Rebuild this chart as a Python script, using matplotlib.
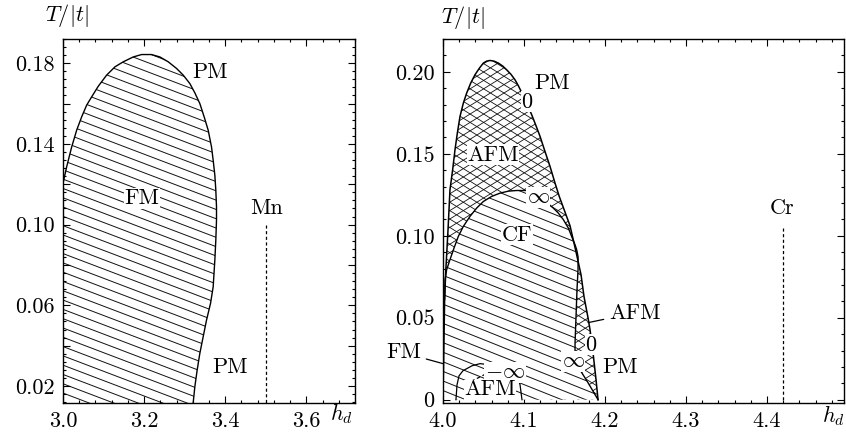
import numpy as np
import matplotlib.pyplot as plt
from matplotlib import ticker
from matplotlib.patches import Polygon
from matplotlib.collections import LineCollection

plt.rcParams['font.family'] = 'serif'
plt.rcParams['font.serif'] = ['cmr10']
plt.rcParams['mathtext.fontset'] = 'cm'
plt.rcParams['axes.formatter.use_mathtext'] = True
plt.rcParams['font.size'] = 16

# ---- Mn panel: FM phase boundary ----
mn_h = [3.0008, 3.009, 3.0214, 3.0337, 3.046, 3.0583, 3.0706, 3.087, 3.1076, 3.1281,
        3.1486, 3.1732, 3.1938, 3.2184, 3.2389, 3.2594, 3.28, 3.2964, 3.3128, 3.3251,
        3.3374, 3.3481, 3.358, 3.3662, 3.3703, 3.3744, 3.3768, 3.3785, 3.3785, 3.3768,
        3.3744, 3.3703, 3.3637, 3.3539, 3.3456, 3.3374, 3.3308, 3.3251, 3.321, 3.319]
mn_T = [0.1212, 0.1286, 0.1385, 0.1468, 0.1534, 0.1592, 0.1633, 0.1686, 0.1741, 0.1782,
        0.1807, 0.1831, 0.1843, 0.1843, 0.1831, 0.1807, 0.1774, 0.1741, 0.1699, 0.1653,
        0.160, 0.1534, 0.1468, 0.1385, 0.1319, 0.1245, 0.1171, 0.1088, 0.1022, 0.0923,
        0.0824, 0.0692, 0.0609, 0.0527, 0.0444, 0.0362, 0.0279, 0.0197, 0.0117, 0.0]
mn_line_h, mn_line_T = 3.5, 0.10

# ---- Cr panel ----
# outer boundary (AFM + CF + FM)
cr_out_h = [4.0, 4.0008, 4.002, 4.0035, 4.0062, 4.0086, 4.0119, 4.0148, 4.0177, 4.021,
            4.0251, 4.0292, 4.0342, 4.0395, 4.0449, 4.0498, 4.0539, 4.058, 4.063, 4.0683,
            4.0737, 4.0786, 4.084, 4.0889, 4.093, 4.0951, 4.1025, 4.1095, 4.1148, 4.1198,
            4.1259, 4.1321, 4.1383, 4.1435, 4.1568, 4.1642, 4.1704, 4.1741, 4.179, 4.1815,
            4.1852, 4.1889, 4.1914]
cr_out_T = [0.0, 0.0244, 0.061, 0.0793, 0.1037, 0.128, 0.1402, 0.1524, 0.1626, 0.1728,
            0.1809, 0.187, 0.1931, 0.1982, 0.2022, 0.2053, 0.2065, 0.2069, 0.2065, 0.2053,
            0.2035, 0.2012, 0.1984, 0.1951, 0.1915, 0.1894, 0.1817, 0.1738, 0.1671, 0.1606,
            0.1514, 0.1423, 0.1321, 0.124, 0.1061, 0.0902, 0.0762, 0.0628, 0.050, 0.0427,
            0.0287, 0.0122, 0.0]
# CF boundary
cr_cf_h = [4.002, 4.0025, 4.0045, 4.0086, 4.0136, 4.0189, 4.0251, 4.0333, 4.0416, 4.0498,
           4.0601, 4.0704, 4.0807, 4.091, 4.1033, 4.1173, 4.1362, 4.1424, 4.1486, 4.1547,
           4.1588, 4.163, 4.165, 4.1667, 4.1667, 4.1654, 4.1642, 4.163, 4.163, 4.1667,
           4.179, 4.1914]
cr_cf_T = [0.061, 0.0732, 0.0793, 0.0854, 0.0925, 0.0996, 0.1057, 0.1118, 0.1169, 0.1209,
           0.124, 0.126, 0.1272, 0.1276, 0.1276, 0.1244, 0.1169, 0.1138, 0.1098, 0.1047,
           0.0996, 0.0945, 0.0915, 0.0872, 0.0793, 0.0671, 0.0506, 0.0348, 0.0293, 0.0201,
           0.0104, 0.0]
# low-temperature AFM pocket
cr_afm_h = [4.016, 4.0173, 4.0198, 4.0247, 4.0358, 4.0457, 4.058, 4.0679, 4.0852, 4.0914,
            4.0951, 4.0975]
cr_afm_T = [0.0, 0.0091, 0.0146, 0.0177, 0.0207, 0.022, 0.0213, 0.0201, 0.0177, 0.0152,
            0.0091, 0.0]
cr_dash_h = [4.028, 4.056]
cr_dash_T = [0.0095, 0.0165]
cr_line_h, cr_line_T = 4.42, 0.105

fig = plt.figure(figsize=(8.46, 4.41), dpi=100)
ax1 = fig.add_axes([63 / 846, 38 / 441, 292 / 846, 364 / 441])
ax2 = fig.add_axes([443 / 846, 38 / 441, 401 / 846, 364 / 441])


def hatch(ax, patch, slope, gap, z, lw=0.7):
    # parallel lines of given pixel slope and vertical pixel gap, clipped to patch
    bb = ax.get_position()
    w = bb.width * fig.get_figwidth() * fig.dpi
    h = bb.height * fig.get_figheight() * fig.dpi
    sa = slope * w / h
    dc = gap / h
    cs = np.arange(-abs(sa) - dc, 1 + abs(sa) + dc, dc)
    segs = [[(0, c), (1, c + sa)] for c in cs]
    lc = LineCollection(segs, transform=ax.transAxes, colors='#111111', linewidths=lw, zorder=z)
    lc.set_clip_path(patch)
    lc.set_clip_box(ax.bbox)
    ax.add_collection(lc)


def region(ax, h, T, z, face='white'):
    p = Polygon(np.column_stack([h, T]), closed=True, facecolor=face, edgecolor='none', zorder=z)
    ax.add_patch(p)
    return p


box = dict(facecolor='white', edgecolor='none', pad=0.5)

# ---- left panel ----
fm = region(ax1, [2.9] + mn_h + [2.9], [mn_T[0]] + mn_T + [0.0], 1)
hatch(ax1, fm, -0.38, 9.3, 1.1)
ax1.plot(mn_h, mn_T, color='k', lw=1.0, zorder=3)
ax1.plot([mn_line_h, mn_line_h], [mn_line_T, 0], color='k', lw=0.9, ls=(0, (2.5, 2)), zorder=3)
ax1.text(3.362, 0.1756, 'PM', ha='center', va='center', zorder=4)
ax1.text(3.195, 0.113, 'FM', ha='center', va='center', bbox=box, zorder=4)
ax1.text(3.502, 0.108, 'Mn', ha='center', va='center', zorder=4)
ax1.text(3.411, 0.0294, 'PM', ha='center', va='center', zorder=4)

ax1.set_xlim(3.0, 3.72)
ax1.set_ylim(0.0116, 0.192)
ax1.xaxis.set_major_locator(ticker.MultipleLocator(0.2))
ax1.xaxis.set_minor_locator(ticker.MultipleLocator(0.04))
ax1.xaxis.set_major_formatter(ticker.FormatStrFormatter('%.1f'))
ax1.yaxis.set_major_locator(ticker.MultipleLocator(0.02))
ax1.yaxis.set_minor_locator(ticker.MultipleLocator(0.004))
ax1.yaxis.set_major_formatter(ticker.FuncFormatter(
    lambda v, p: f'{v:.2f}' if round(v * 100) % 4 == 2 else ''))

# ---- right panel ----
outer = region(ax2, [3.9] + cr_out_h + [3.9], [0.0] + cr_out_T + [0.0], 1)
hatch(ax2, outer, 0.62, 8.4, 1.1, lw=0.6)
hatch(ax2, outer, -0.62, 8.4, 1.1, lw=0.6)
cf = region(ax2, [3.9] + cr_cf_h + [3.9], [cr_cf_T[0]] + cr_cf_T + [0.0], 2)
hatch(ax2, cf, -0.40, 9.6, 2.1)
ax2.plot(cr_out_h, cr_out_T, color='k', lw=1.1, zorder=3)
ax2.plot(cr_cf_h, cr_cf_T, color='k', lw=1.0, zorder=3)
ax2.plot(cr_afm_h, cr_afm_T, color='k', lw=0.9, zorder=3)
ax2.plot(cr_dash_h, cr_dash_T, color='k', lw=0.9, ls=(0, (3, 2)), zorder=3)
ax2.plot([cr_line_h, cr_line_h], [cr_line_T, 0], color='k', lw=0.9, ls=(0, (2.5, 2)), zorder=3)

ax2.text(4.1346, 0.1933, 'PM', ha='center', va='center', zorder=4)
ax2.text(4.1037, 0.1817, '0', ha='center', va='center', bbox=box, zorder=4)
ax2.text(4.0617, 0.1494, 'AFM', ha='center', va='center', bbox=box, zorder=4)
ax2.text(4.1173, 0.1232, r'$\infty$', ha='center', va='center', bbox=box, zorder=4)
ax2.text(4.0914, 0.1006, 'CF', ha='center', va='center', bbox=box, zorder=4)
ax2.annotate('AFM', xy=(4.179, 0.047), xytext=(4.237, 0.053), ha='center', va='center',
             arrowprops=dict(arrowstyle='-', color='k', lw=0.9, shrinkA=2, shrinkB=0), zorder=4)
ax2.text(4.1827, 0.0335, '0', ha='center', va='center', bbox=box, zorder=4)
ax2.text(4.1605, 0.0232, r'$\infty$', ha='center', va='center', bbox=box, zorder=4)
ax2.text(4.2185, 0.0201, 'PM', ha='center', va='center', zorder=4)
ax2.text(4.0765, 0.0165, r'$-\infty$', ha='center', va='center', bbox=box, zorder=4)
ax2.text(4.058, 0.0061, 'AFM', ha='center', va='center',
         bbox=dict(facecolor='white', edgecolor='none', pad=0.2), zorder=4)
ax2.annotate('FM', xy=(4.0, 0.022), xytext=(3.951, 0.0287), ha='center', va='center',
             annotation_clip=False,
             arrowprops=dict(arrowstyle='-', color='k', lw=0.9, shrinkA=2, shrinkB=0), zorder=4)
ax2.text(4.4185, 0.117, 'Cr', ha='center', va='center', zorder=4)

ax2.set_xlim(4.0, 4.495)
ax2.set_ylim(-0.002, 0.220)
ax2.xaxis.set_major_locator(ticker.MultipleLocator(0.1))
ax2.xaxis.set_minor_locator(ticker.MultipleLocator(0.02))
ax2.xaxis.set_major_formatter(ticker.FormatStrFormatter('%.1f'))
ax2.yaxis.set_major_locator(ticker.MultipleLocator(0.05))
ax2.yaxis.set_minor_locator(ticker.MultipleLocator(0.01))
ax2.yaxis.set_major_formatter(ticker.FuncFormatter(
    lambda v, p: '0' if abs(v) < 1e-9 else f'{v:.2f}'))

for ax in (ax1, ax2):
    ax.tick_params(which='both', direction='in', top=True, right=True, width=0.8)
    ax.tick_params(which='major', length=5, pad=6)
    ax.tick_params(which='minor', length=2.5)
    for s in ax.spines.values():
        s.set_linewidth(1.0)
        s.set_zorder(5)

ax1.text(0.015, 1.065, r'$T/|t|$', transform=ax1.transAxes, ha='center', va='center')
ax1.text(0.955, -0.03, r'$h_d$', transform=ax1.transAxes, ha='center', va='center')
ax2.text(0.05, 1.06, r'$T/|t|$', transform=ax2.transAxes, ha='center', va='center')
ax2.text(0.973, -0.035, r'$h_d$', transform=ax2.transAxes, ha='center', va='center')

fig.savefig('out.png', dpi=100)
